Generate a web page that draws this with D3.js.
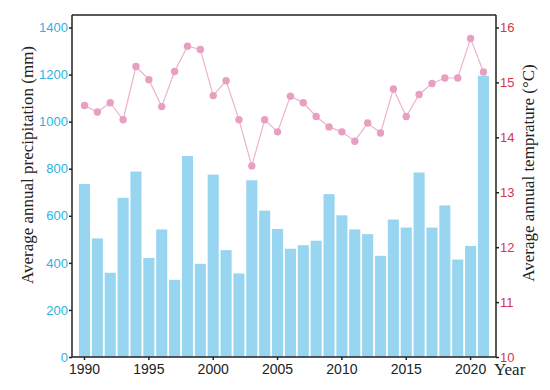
<!DOCTYPE html>
<html>
<head>
<meta charset="utf-8">
<script src="https://cdn.jsdelivr.net/npm/d3@7"></script>
<style>
  body { margin: 0; background: #fff; }
</style>
</head>
<body>
<div id="chart"></div>
<script>
var years = d3.range(1990, 2022);
var precipitation = [735, 504, 358, 676, 788, 421, 542, 328, 854, 396,
                     775, 454, 355, 751, 622, 544, 460, 475, 494, 692,
                     602, 542, 522, 430, 584, 550, 784, 550, 644, 414,
                     472, 1195];
var temperature = [14.58, 14.46, 14.63, 14.32, 15.29, 15.05, 14.56, 15.2, 15.66, 15.6,
                   14.76, 15.03, 14.32, 13.48, 14.32, 14.1, 14.75, 14.63, 14.38, 14.19,
                   14.1, 13.93, 14.26, 14.08, 14.88, 14.38, 14.78, 14.98, 15.08, 15.08,
                   15.8, 15.19];
var yearTicks = [1990, 1995, 2000, 2005, 2010, 2015, 2020];
var precipTicks = [0, 200, 400, 600, 800, 1000, 1200, 1400];
var tempTicks = [10, 11, 12, 13, 14, 15, 16];

var W = 550, H = 390;
var plotLeft = 72, plotRight = 496, plotTop = 15, plotBottom = 357;

var svg = d3.select("#chart").append("svg")
    .attr("width", W)
    .attr("height", H);

var data = years.map(function(y, i) {
    return {year: y, p: precipitation[i], t: temperature[i]};
});

// scales
var x = d3.scaleBand()
    .domain(years)
    .range([78.07, 489.9])
    .paddingInner(0.14)
    .paddingOuter(0.07);

var yP = d3.scaleLinear().domain([0, 1400]).range([plotBottom, 27.5]);
var yT = d3.scaleLinear().domain([10, 16]).range([plotBottom, 27.5]);

// bars
svg.append("g")
    .selectAll("rect")
    .data(data)
    .enter()
    .append("rect")
    .attr("x", d => x(d.year))
    .attr("width", x.bandwidth())
    .attr("y", d => yP(d.p))
    .attr("height", d => yP(0) - yP(d.p))
    .style("fill", "#97d5f0");

// temperature line
var line = d3.line()
    .x(d => x(d.year) + x.bandwidth() / 2)
    .y(d => yT(d.t));

svg.append("path")
    .datum(data)
    .attr("d", line)
    .attr("fill", "none")
    .attr("stroke", "#eeb3cb")
    .attr("stroke-width", 1.2);

svg.append("g")
    .selectAll("circle")
    .data(data)
    .enter()
    .append("circle")
    .attr("cx", d => x(d.year) + x.bandwidth() / 2)
    .attr("cy", d => yT(d.t))
    .attr("r", 3.7)
    .style("fill", "#e99fc2");

// axes
var tickFont = "'Liberation Sans', Arial, sans-serif";

var xAxis = svg.append("g")
    .attr("transform", `translate(0, ${plotBottom})`)
    .call(d3.axisBottom(x).tickValues(yearTicks).tickSize(3).tickPadding(4).tickSizeOuter(0));
xAxis.select(".domain").attr("d", `M${plotLeft},0H${plotRight}`);

var yAxisL = svg.append("g")
    .attr("transform", `translate(${plotLeft}, 0)`)
    .call(d3.axisLeft(yP).tickValues(precipTicks).tickFormat(d3.format("d"))
        .tickSize(3).tickPadding(1).tickSizeOuter(0));
yAxisL.select(".domain").attr("d", `M0,${plotTop}V${plotBottom}`);
yAxisL.selectAll("text").attr("fill", "#2ab4e2");

var yAxisR = svg.append("g")
    .attr("transform", `translate(${plotRight}, 0)`)
    .call(d3.axisRight(yT).tickValues(tempTicks).tickFormat(d3.format("d"))
        .tickSize(3).tickPadding(1).tickSizeOuter(0));
yAxisR.select(".domain").attr("d", `M0,${plotTop}V${plotBottom}`);
yAxisR.selectAll("text").attr("fill", "#d6344f");

svg.selectAll(".tick text")
    .style("font-family", tickFont)
    .style("font-size", "13px");
xAxis.selectAll("text").attr("fill", "#222").style("font-size", "14px");
svg.selectAll(".domain, .tick line").attr("stroke", "#222").attr("stroke-width", 1.5);

// top border
svg.append("line")
    .attr("x1", plotLeft).attr("x2", plotRight)
    .attr("y1", plotTop).attr("y2", plotTop)
    .attr("stroke", "#222")
    .attr("stroke-width", 1.5);

// axis titles
var titleFont = "'Liberation Serif', 'Times New Roman', serif";

svg.append("text")
    .attr("transform", "translate(33, 165) rotate(-90)")
    .attr("text-anchor", "middle")
    .style("font-family", titleFont)
    .style("font-size", "17px")
    .attr("fill", "#222")
    .text("Average annual precipitation (mm)");

svg.append("text")
    .attr("transform", "translate(534, 173) rotate(-90)")
    .attr("text-anchor", "middle")
    .style("font-family", titleFont)
    .style("font-size", "17px")
    .attr("fill", "#222")
    .text("Average annual temprature (°C)");

svg.append("text")
    .attr("x", 494)
    .attr("y", 375)
    .style("font-family", titleFont)
    .style("font-size", "17px")
    .attr("fill", "#222")
    .text("Year");
</script>
</body>
</html>
